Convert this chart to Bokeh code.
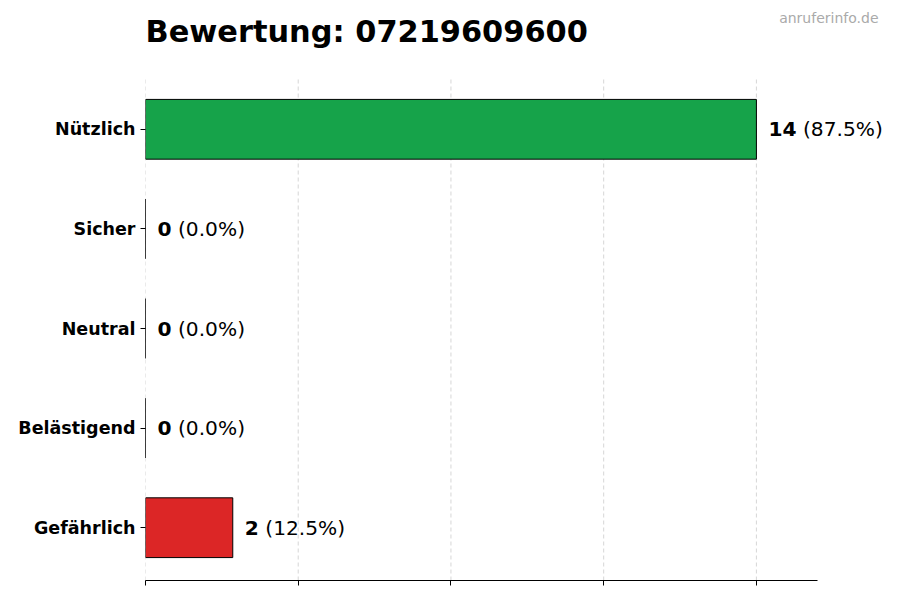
from bokeh.plotting import figure
from bokeh.models import ColumnDataSource, Range1d, FixedTicker, Label, LabelSet
from bokeh.core.properties import value
from bokeh.embed import file_html
from bokeh.resources import INLINE

categories = ["Nützlich", "Sicher", "Neutral", "Belästigend", "Gefährlich"]
counts = [14, 0, 0, 0, 2]
bar_colors = ["#16a34a", "#65a30d", "#9ca3af", "#f97316", "#dc2626"]
x_ticks = [0, 3.5, 7, 10.5, 14]
x_max = 15.4
title_text = "Bewertung: 07219609600"
watermark = "anruferinfo.de"

FONT = "DejaVu Sans"
VAL_SIZE = 20.2
VAL_GAP = 12

# layout: plot area 145..817 px wide, 76..580 px high
W, H = 884, 592
LEFT, BOTTOM = 145, 12
PX_X = (817 - LEFT) / x_max
Y_LO, Y_HI = -0.53, len(categories) - 0.47
PX_Y = (580 - 76) / (Y_HI - Y_LO)

ypos = [len(categories) - 1 - i for i in range(len(categories))]
total = sum(counts)
pct_labels = ["(%.1f%%)" % (c / total * 100) for c in counts]
num_labels = [str(c) for c in counts]
# bold digits are ~0.696em wide, a space ~0.318em
pct_offsets = [VAL_GAP + len(s) * 0.696 * VAL_SIZE + 0.318 * VAL_SIZE for s in num_labels]

src = ColumnDataSource(dict(
    y=ypos, count=counts, color=bar_colors,
    num=num_labels, pct=pct_labels, pct_off=pct_offsets,
))

# frame is stretched to the canvas edges so labels, title and watermark are not clipped
p = figure(width=W, height=H, title=None,
           x_range=Range1d(0, (W - LEFT) / PX_X),
           y_range=Range1d(Y_LO, Y_LO + (H - BOTTOM) / PX_Y),
           output_backend="svg", toolbar_location=None,
           min_border_left=LEFT, min_border_right=0,
           min_border_top=0, min_border_bottom=BOTTOM)

p.xgrid.grid_line_color = None
p.ygrid.grid_line_color = None
p.segment(x0=x_ticks, x1=x_ticks, y0=Y_LO, y1=Y_HI, line_color="#cccccc",
          line_dash="4 3", line_width=0.8)

p.hbar(y="y", left=0, right="count", height=0.6, fill_color="color",
       line_color="black", line_width=1, source=src)

p.add_layout(LabelSet(x="count", y="y", text="num", x_offset=VAL_GAP, source=src,
                      text_font=value(FONT), text_font_style="bold",
                      text_font_size="%.1fpx" % VAL_SIZE, text_baseline="middle",
                      text_align="left", text_color="black"))
p.add_layout(LabelSet(x="count", y="y", text="pct", x_offset="pct_off", source=src,
                      text_font=value(FONT), text_font_size="%.1fpx" % VAL_SIZE,
                      text_baseline="middle", text_align="left", text_color="black"))

y_top = Y_LO + (H - BOTTOM) / PX_Y
p.add_layout(Label(x=0, y=y_top - 31 / PX_Y, text=title_text,
                   text_font=FONT, text_font_size="30.4px", text_font_style="bold",
                   text_color="black", text_align="left", text_baseline="middle"))
p.add_layout(Label(x=(878 - LEFT) / PX_X, y=y_top - 17 / PX_Y, text=watermark,
                   text_font=FONT, text_font_size="14px", text_color="#aaaaaa",
                   text_align="right", text_baseline="middle"))

p.outline_line_color = None

p.xaxis.ticker = FixedTicker(ticks=x_ticks)
p.xaxis.bounds = (0, x_max)
p.xaxis.major_label_overrides = {t: "" for t in x_ticks}
p.xaxis.major_tick_out = 5
p.xaxis.major_tick_in = 0
p.xaxis.minor_tick_line_color = None
p.xaxis.axis_line_color = "black"
p.xaxis.axis_line_width = 1.2

p.yaxis.ticker = FixedTicker(ticks=ypos)
p.yaxis.major_label_overrides = {y: c for y, c in zip(ypos, categories)}
p.yaxis.axis_line_color = None
p.yaxis.major_tick_out = 5
p.yaxis.major_tick_in = 0
p.yaxis.minor_tick_line_color = None
p.yaxis.major_label_standoff = 5
p.yaxis.major_label_text_font = FONT
p.yaxis.major_label_text_font_style = "bold"
p.yaxis.major_label_text_font_size = "17.5px"
p.yaxis.major_label_text_color = "black"

open("out.html", "w").write(file_html(p, INLINE))
